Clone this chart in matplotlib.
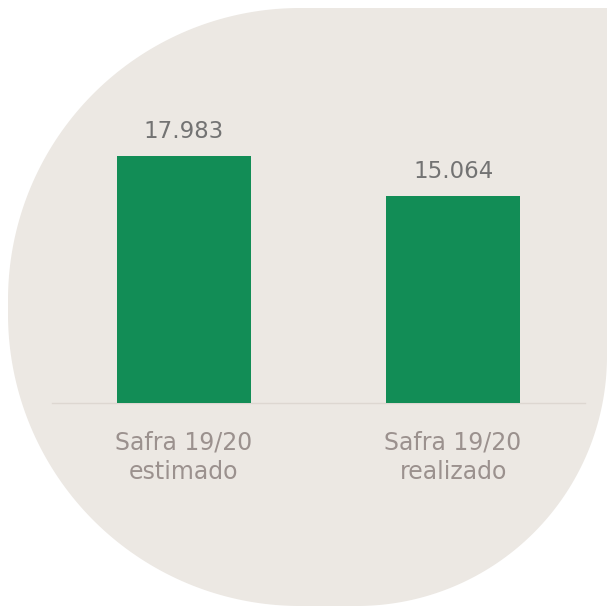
import numpy as np
import matplotlib
matplotlib.use("Agg")
import matplotlib.pyplot as plt
from matplotlib.path import Path
from matplotlib.patches import PathPatch

categories = ["Safra 19/20\nestimado", "Safra 19/20\nrealizado"]
values = [17983, 15064]
value_labels = ["17.983", "15.064"]

BG_SHAPE = "#ece8e3"
BAR_COLOR = "#128d56"
VAL_COLOR = "#737373"
CAT_COLOR = "#9b918e"
BASE_COLOR = "#ddd7d1"

W = H = 608
fig = plt.figure(figsize=(6.08, 6.08), dpi=100)
fig.patch.set_facecolor("white")

# decorative background shape (rounded rect, square top-right corner)
bg = fig.add_axes([0, 0, 1, 1])
bg.set_xlim(0, W)
bg.set_ylim(H, 0)
bg.axis("off")

x0, y0, x1, y1 = 8, 8, 607, 606
r_tl, r_bl, r_br = 292, 292, 250

def arc(cx, cy, r, a0, a1, n=80):
    t = np.radians(np.linspace(a0, a1, n))
    return np.column_stack([cx + r * np.cos(t), cy + r * np.sin(t)])

pts = []
pts.append([[x1, y0]])                                # top-right (square)
pts.append(arc(x1 - r_br, y1 - r_br, r_br, 0, 90))    # bottom-right
pts.append(arc(x0 + r_bl, y1 - r_bl, r_bl, 90, 180))  # bottom-left
pts.append(arc(x0 + r_tl, y0 + r_tl, r_tl, 180, 270)) # top-left
verts = np.vstack(pts)
verts = np.vstack([verts, verts[:1]])
codes = [Path.MOVETO] + [Path.LINETO] * (len(verts) - 2) + [Path.CLOSEPOLY]
bg.add_patch(PathPatch(Path(verts, codes), facecolor=BG_SHAPE, edgecolor="none"))

# bar chart axes
left_px, right_px = 52, 585
base_px = 403
ymax = 20000
px_per_unit = 247 / 17983
height_px = ymax * px_per_unit
ax = fig.add_axes([left_px / W, (H - base_px) / H, (right_px - left_px) / W, height_px / H])
ax.patch.set_alpha(0)
x = np.arange(len(categories))
ax.bar(x, values, width=0.5, color=BAR_COLOR, zorder=3)
ax.set_xlim(-0.49, 1.49)
ax.set_ylim(0, ymax)
for s in ["top", "right", "left"]:
    ax.spines[s].set_visible(False)
ax.spines["bottom"].set_color(BASE_COLOR)
ax.spines["bottom"].set_linewidth(1.0)
ax.set_yticks([])
ax.set_xticks(x)
ax.set_xticklabels(categories, fontsize=17, color=CAT_COLOR, linespacing=1.3,
                   family="DejaVu Sans")
ax.tick_params(axis="x", length=0, pad=20)

for xi, v, lab in zip(x, values, value_labels):
    ax.annotate(lab, (xi, v), xytext=(0, 13), textcoords="offset points",
                ha="center", va="baseline", fontsize=16.5, color=VAL_COLOR)

fig.savefig("out.png", dpi=100, facecolor="white")
